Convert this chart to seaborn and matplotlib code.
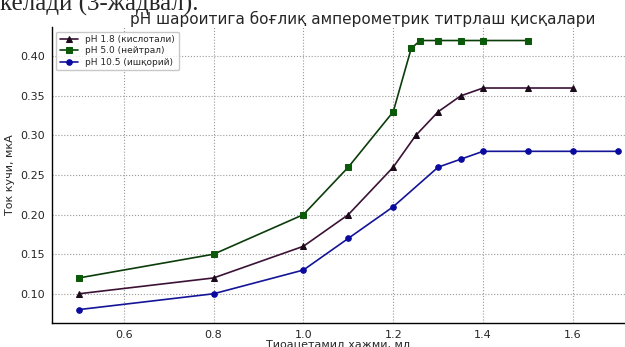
import numpy as np
import pandas as pd
import matplotlib
matplotlib.use("Agg")
import matplotlib.pyplot as plt
import seaborn as sns

sns.set_style("white")
plt.rcParams["font.family"] = ["DejaVu Sans"]

# data
x_acid = [0.5, 0.8, 1.0, 1.1, 1.2, 1.25, 1.3, 1.35, 1.4, 1.5, 1.6]
y_acid = [0.10, 0.12, 0.16, 0.20, 0.26, 0.30, 0.33, 0.35, 0.36, 0.36, 0.36]
x_neut = [0.5, 0.8, 1.0, 1.1, 1.2, 1.24, 1.26, 1.3, 1.35, 1.4, 1.5]
y_neut = [0.12, 0.15, 0.20, 0.26, 0.33, 0.41, 0.42, 0.42, 0.42, 0.42, 0.42]
x_alk = [0.5, 0.8, 1.0, 1.1, 1.2, 1.3, 1.35, 1.4, 1.5, 1.6, 1.7]
y_alk = [0.08, 0.10, 0.13, 0.17, 0.21, 0.26, 0.27, 0.28, 0.28, 0.28, 0.28]

labels = ["pH 1.8 (кислотали)", "pH 5.0 (нейтрал)", "pH 10.5 (ишқорий)"]
xticks = [0.6, 0.8, 1.0, 1.2, 1.4, 1.6]
yticks = [0.10, 0.15, 0.20, 0.25, 0.30, 0.35, 0.40]

fig = plt.figure(figsize=(6.25, 3.47), dpi=100)
ax = fig.add_axes([0.083, 0.069, 0.917, 0.853])

styles = [
    (x_acid, y_acid, "#3b1236", "#1a0a1a", "^"),
    (x_neut, y_neut, "#0b3d0b", "#0a5a0a", "s"),
    (x_alk, y_alk, "#141496", "#0a0aa0", "o"),
]
for (xs, ys, lc, mc, mk), lab in zip(styles, labels):
    sns.lineplot(x=xs, y=ys, ax=ax, color=lc, lw=1.2, marker=mk, markersize=4,
                 markerfacecolor=mc, markeredgecolor=mc, label=lab, sort=False)

ax.set_xlim(0.44, 1.716)
ax.set_ylim(0.063, 0.437)
ax.set_xticks(xticks)
ax.set_yticks(yticks)
ax.set_xticklabels([f"{v:.1f}" for v in xticks], fontsize=8)
ax.set_yticklabels([f"{v:.2f}" for v in yticks], fontsize=8)
ax.tick_params(axis="both", length=3, width=0.6, color="#555555", pad=2)
ax.grid(True, linestyle=":", color="#999999", lw=0.8)
for s in ["top", "right"]:
    ax.spines[s].set_visible(False)
for s in ["left", "bottom"]:
    ax.spines[s].set_color("black")
    ax.spines[s].set_linewidth(1.0)

ax.set_xlabel("Тиоацетамид хажми, мл", fontsize=8, labelpad=0)
ax.set_ylabel("Ток кучи, мкА", fontsize=8, labelpad=4)
# title sits a bit right of the axes centre in the reference
fig.text(0.581, 0.93, "pH шароитига боғлиқ амперометрик титрлаш қисқалари",
         fontsize=11, ha="center", va="baseline")

leg = ax.legend(loc="upper left", fontsize=6.5, frameon=True, handlelength=2.0,
                borderpad=0.4, labelspacing=0.25, bbox_to_anchor=(0.0, 1.0))
leg.get_frame().set_edgecolor("#bbbbbb")

# cropped line of document text above the chart
fig.text(0.0, 0.97, "келади (3-жадвал).", fontsize=18, family="Liberation Serif",
         va="baseline", ha="left")

fig.savefig("out.png", dpi=100, facecolor="white")
